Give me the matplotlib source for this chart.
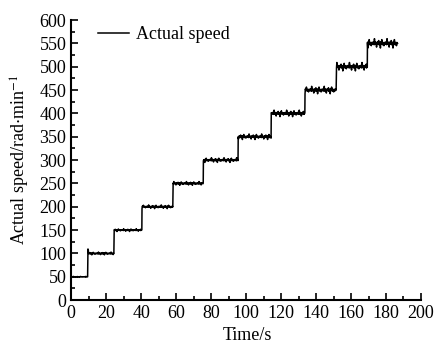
import numpy as np
import matplotlib
matplotlib.use('Agg')
import matplotlib.pyplot as plt
from matplotlib.ticker import MultipleLocator

# step boundaries (s) and speed levels (rad/min)
step_times = [0, 9.6, 24.6, 40.5, 58.3, 75.6, 95.5, 114.4, 133.7, 151.7, 169.4, 186.6]
step_levels = [50, 100, 150, 200, 250, 300, 350, 400, 450, 500, 550]
# ripple amplitude on each step, rad/min
ripple_amp = [1, 3, 3, 4, 4, 5, 6, 7, 8, 9, 10]
# normalised ripple shape, cycled along each step
ripple = [0.1, -0.2, 0.3, -0.1, 0.2, -0.3, 1.0, -0.2, 0.1, 0.3, -0.2, 0.0,
          -0.8, 0.2, -0.1, 0.3, 0.0, -0.2, 0.6, -0.3, 0.1, -0.1, 0.2, -1.0,
          0.3, -0.1, 0.2, 0.8, 0.1, -0.3, 0.2, -0.1, 0.0, -0.5, 0.2, 0.1]
overshoot = 12  # spike right after the first jump

plt.rcParams['font.family'] = ['Liberation Serif', 'DejaVu Serif']
plt.rcParams['mathtext.fontset'] = 'stix'

t_all, v_all = [], []
k = 0
for i, lvl in enumerate(step_levels):
    t0, t1 = step_times[i], step_times[i + 1]
    ts = np.arange(t0, t1, 0.2)
    for j, tt in enumerate(ts):
        v = lvl + ripple_amp[i] * ripple[k % len(ripple)]
        if i == 1 and j < 2:
            v += overshoot * (1 - j / 2)
        k += 1
        t_all.append(tt)
        v_all.append(v)
t_all.append(step_times[-1])
v_all.append(step_levels[-1])

fig = plt.figure(figsize=(4.34, 3.45), dpi=100)
ax = fig.add_axes([0.164, 0.13, 0.806, 0.812])
ax.plot(t_all, v_all, color='black', linewidth=1.1, label='Actual speed')

ax.set_xlim(0, 200)
ax.set_ylim(0, 600)
ax.xaxis.set_major_locator(MultipleLocator(20))
ax.xaxis.set_minor_locator(MultipleLocator(10))
ax.yaxis.set_major_locator(MultipleLocator(50))
ax.yaxis.set_minor_locator(MultipleLocator(25))
ax.tick_params(which='both', direction='in', labelsize=13, width=1.2)
ax.tick_params(which='major', length=5)
ax.tick_params(which='minor', length=3)
ax.spines['top'].set_visible(False)
ax.spines['right'].set_visible(False)
for s in ('left', 'bottom'):
    ax.spines[s].set_linewidth(1.5)

ax.set_xlabel('Time/s', fontsize=13)
ax.xaxis.set_label_coords(0.505, -0.097)
ax.set_ylabel('Actual speed/rad$\\cdot$min$^{-1}$', fontsize=13, labelpad=5)

ax.legend(loc='upper left', frameon=False, fontsize=13, handlelength=1.7,
          handletextpad=0.4, bbox_to_anchor=(0.03, 1.035))

fig.savefig('out.png', dpi=100, facecolor='white')
